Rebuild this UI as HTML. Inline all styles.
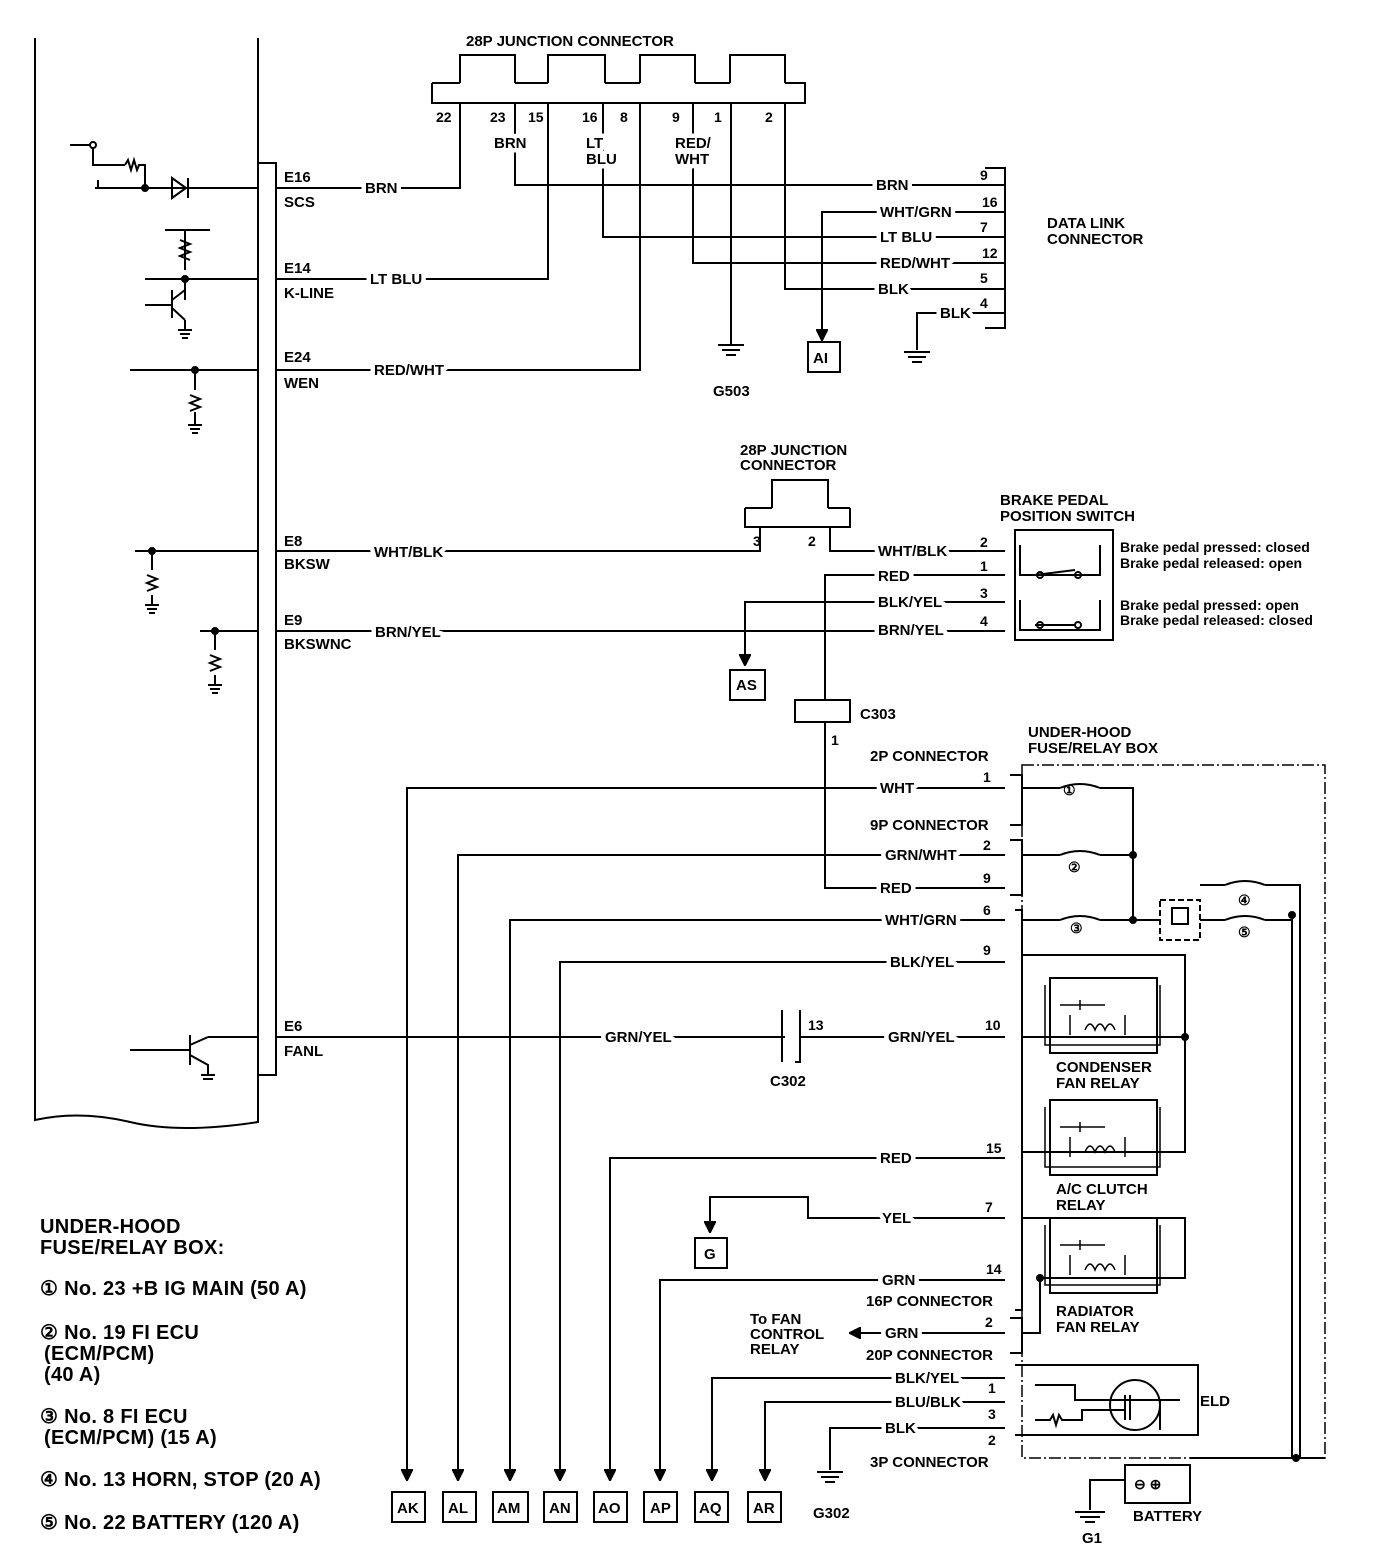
<!DOCTYPE html>
<html><head><meta charset="utf-8"><style>
body{margin:0;background:#fff}
svg{display:block}
text{font-family:"Liberation Sans",Arial,sans-serif;font-weight:bold;font-size:15px;fill:#000;stroke:none}
.s{font-size:14px}
.l{font-size:20px;letter-spacing:0.3px}
text.w{stroke:#fff;stroke-width:9px;paint-order:stroke;stroke-linejoin:round}
</style></head><body>
<svg width="1376" height="1566" viewBox="0 0 1376 1566" xmlns="http://www.w3.org/2000/svg" stroke="#000" fill="none">
<defs><marker id="a" viewBox="0 0 10 10" refX="9" refY="5" markerWidth="6" markerHeight="6" orient="auto"><path d="M0,0L10,5L0,10z" fill="#000"/></marker></defs>
<g stroke-width="2">
<path d="M35 38V1120 Q80 1110 130 1122 T258 1122V38"/>
<rect x="258" y="163" width="18" height="912"/>
<path d="M70 145H93V165H125M93 145V148M125 165l3-5l3 10l3-10l3 10l2-5H145V188H172M95 188H258M98 180v8M172 178l14 10l-14 10zM188 178v20"/>
<circle cx="93" cy="145" r="3" fill="#fff"/><circle cx="145" cy="188" r="3" fill="#000"/>
<path d="M165 230H210M185 230V270M180 240l10 4l-10 4l10 4l-10 4l10 4M145 279H258M185 279V300M145 305H172M172 290V318M172 300l13-10M172 308l13 12M185 320V330M178 330h14M180 334h10M182 338h6"/>
<circle cx="185" cy="279" r="3" fill="#000"/>
<path d="M130 370H258M195 370V390M190 395l10 4l-10 4l10 4l-10 4M195 412V425M188 425h14M190 429h10M192 433h6"/>
<circle cx="195" cy="370" r="3" fill="#000"/>
<path d="M135 551H258M152 551V570M147 575l10 4l-10 4l10 4l-10 4M152 595V605M145 605h14M147 609h10M149 613h6"/>
<circle cx="152" cy="551" r="3" fill="#000"/>
<path d="M200 631H258M215 631V650M210 655l10 4l-10 4l10 4l-10 4M215 675V685M208 685h14M210 689h10M212 693h6"/>
<circle cx="215" cy="631" r="3" fill="#000"/>
<path d="M130 1050H190M190 1035V1065M190 1045l18-8M190 1055l18 10V1075M201 1075h14M203 1079h10M208 1037H258"/>
<path d="M432 83V103H805V83H785M460 83V55H515V83M548 83V55H605V83M640 83V55H695V83M730 83V55H785V83M432 83H460M515 83H548M605 83H640M695 83H730"/>
<path d="M276 188H460V103M276 279H548V103M276 370H640V103"/>
<path d="M515 103V185H985M603 103V237H1005M693 103V263H1005M785 103V289H1005M731 103V345M515 185H1005"/>
<path d="M718 345h26M722 350h18M726 355h10"/>
<path d="M1005 212H822V340" marker-end="url(#a)"/>
<rect x="808" y="342" width="32" height="30"/>
<path d="M1005 313H917V350M904 352h26M908 357h18M912 362h10"/>
<path d="M985 168H1005V328H985M1005 185h-20"/>
<path d="M745 508V527H850V508M772 508V480H828V508M745 508H772M828 508H850"/>
<path d="M276 551H760V527M830 527V551H1005"/>
<path d="M1005 575H825V700M825 722V888H1005"/>
<rect x="795" y="700" width="55" height="22"/>
<path d="M1005 602H745V665" marker-end="url(#a)"/>
<rect x="730" y="670" width="35" height="30"/>
<path d="M276 631H1005"/>
<rect x="1015" y="530" width="98" height="110"/>
<path d="M1020 545v30h80v-30M1035 575l40-5M1020 600v30h80v-30M1035 625l40-0"/>
<circle cx="1040" cy="575" r="3"/><circle cx="1078" cy="575" r="3"/><circle cx="1040" cy="625" r="3"/><circle cx="1078" cy="625" r="3"/>
<path d="M1005 788H407V1480" marker-end="url(#a)"/>
<path d="M1005 855H458V1480" marker-end="url(#a)"/>
<path d="M1005 920H510V1480" marker-end="url(#a)"/>
<path d="M1005 962H560V1480" marker-end="url(#a)"/>
<path d="M1005 1158H610V1480" marker-end="url(#a)"/>
<path d="M1005 1280H660V1480" marker-end="url(#a)"/>
<path d="M1005 1378H712V1480" marker-end="url(#a)"/>
<path d="M1005 1402H765V1480" marker-end="url(#a)"/>
<path d="M1005 1428H830V1470M817 1472h26M821 1477h18M825 1482h10"/>
<path d="M276 1037H785M800 1037H1005"/>
<path d="M782 1010V1062M800 1010V1062H795"/>
<path d="M1005 1218H808V1197H710V1232" marker-end="url(#a)"/>
<rect x="695" y="1238" width="32" height="30"/>
<path d="M1005 1333H850" marker-end="url(#a)"/>
<rect x="392" y="1492" width="33" height="30"/><rect x="443" y="1492" width="33" height="30"/><rect x="493" y="1492" width="35" height="30"/><rect x="544" y="1492" width="33" height="30"/><rect x="594" y="1492" width="33" height="30"/><rect x="644" y="1492" width="33" height="30"/><rect x="695" y="1492" width="33" height="30"/><rect x="748" y="1492" width="33" height="30"/>
<path d="M1010 775h12v50h-12M1010 840h12v55h-12M1015 910h7v400h-7M1010 1318h12v35h-12M1015 1365h183v70h-183"/>
</g>
<path d="M1022 765H1325V1458H1022Z" stroke-width="1.5" stroke-dasharray="12 3 2 3"/>
<g stroke-width="2">
<path d="M1022 788H1060M1100 788H1133V920M1022 855H1060M1100 855H1133M1022 920H1060M1100 920H1160M1133 920H1160M1200 920H1225M1265 920H1292V1458M1200 885H1225M1265 885H1300V1458M1325 1458H1300M1292 1458H1190"/>
<circle cx="1133" cy="855" r="3" fill="#000"/><circle cx="1133" cy="920" r="3" fill="#000"/><circle cx="1292" cy="915" r="3" fill="#000"/><circle cx="1296" cy="1458" r="3" fill="#000"/>
<path d="M1060 788q20-8 40 0M1060 855q20-8 40 0M1060 920q20-8 40 0M1225 885q20-8 40 0M1225 920q20-8 40 0"/>
<rect x="1160" y="900" width="40" height="40" stroke-dasharray="6 3"/>
<rect x="1172" y="908" width="16" height="16"/>
<rect x="1050" y="978" width="107" height="75"/><rect x="1050" y="1100" width="107" height="75"/><rect x="1050" y="1218" width="107" height="75"/>
<g stroke-width="1.5">
<path d="M1045 985V1045H1160V985M1060 1005h45M1080 1000v10M1070 1015v20M1125 1015v20M1085 1030q5-12 10 0q5-12 10 0q5-12 10 0"/>
<path d="M1045 1107V1167H1160V1107M1060 1127h45M1080 1122v10M1070 1137v20M1125 1137v20M1085 1152q5-12 10 0q5-12 10 0q5-12 10 0"/>
<path d="M1045 1225V1285H1160V1225M1060 1245h45M1080 1240v10M1070 1255v20M1125 1255v20M1085 1270q5-12 10 0q5-12 10 0q5-12 10 0"/>
</g>
<path d="M1022 1037H1185V955H1022M1185 1037V1152H1022M1022 1218H1185V1278H1040M1040 1278V1333H1022"/>
<circle cx="1185" cy="1037" r="3" fill="#000"/><circle cx="1040" cy="1278" r="3" fill="#000"/>
<rect x="1125" y="1465" width="65" height="38"/>
<path d="M1125 1480H1090V1510M1075 1512h30M1080 1517h20M1085 1522h10"/>
<circle cx="1135" cy="1405" r="25"/>
<path d="M1035 1385H1075V1400H1180M1035 1420h15l3-5l3 10l3-10l3 5h20V1410H1125M1125 1395V1420M1130 1395V1420M1160 1400V1430"/>
</g>
<text x="466" y="46">28P JUNCTION CONNECTOR</text>
<text class="s" x="436" y="122">22</text><text class="s" x="490" y="122">23</text><text class="s" x="528" y="122">15</text><text class="s" x="582" y="122">16</text><text class="s" x="620" y="122">8</text><text class="s" x="672" y="122">9</text><text class="s" x="714" y="122">1</text><text class="s" x="765" y="122">2</text>
<text class="w" x="494" y="148">BRN</text><text class="w" x="586" y="148">LT</text><text class="w" x="586" y="164">BLU</text><text class="w" x="675" y="148">RED/</text><text class="w" x="675" y="164">WHT</text>
<text x="284" y="182">E16</text><text x="284" y="207">SCS</text><text class="w" x="365" y="193">BRN</text>
<text x="284" y="273">E14</text><text x="284" y="298">K-LINE</text><text class="w" x="370" y="284">LT BLU</text>
<text x="284" y="362">E24</text><text x="284" y="388">WEN</text><text class="w" x="374" y="375">RED/WHT</text>
<text class="w" x="876" y="190">BRN</text><text class="w" x="880" y="217">WHT/GRN</text><text class="w" x="880" y="242">LT BLU</text><text class="w" x="880" y="268">RED/WHT</text><text class="w" x="878" y="294">BLK</text><text class="w" x="940" y="318">BLK</text>
<text class="s" x="980" y="180">9</text><text class="s" x="982" y="207">16</text><text class="s" x="980" y="232">7</text><text class="s" x="982" y="258">12</text><text class="s" x="980" y="283">5</text><text class="s" x="980" y="308">4</text>
<text x="1047" y="228">DATA LINK</text><text x="1047" y="244">CONNECTOR</text>
<text x="813" y="363">AI</text><text x="713" y="396">G503</text>
<text x="740" y="455">28P JUNCTION</text><text x="740" y="470">CONNECTOR</text>
<text class="s" x="753" y="546">3</text><text class="s" x="808" y="546">2</text>
<text x="284" y="546">E8</text><text x="284" y="569">BKSW</text><text class="w" x="374" y="557">WHT/BLK</text>
<text x="284" y="625">E9</text><text x="284" y="649">BKSWNC</text><text class="w" x="375" y="637">BRN/YEL</text>
<text class="w" x="878" y="556">WHT/BLK</text><text class="w" x="878" y="581">RED</text><text class="w" x="878" y="607">BLK/YEL</text><text class="w" x="878" y="635">BRN/YEL</text>
<text class="s" x="980" y="547">2</text><text class="s" x="980" y="571">1</text><text class="s" x="980" y="598">3</text><text class="s" x="980" y="626">4</text>
<text x="1000" y="505">BRAKE PEDAL</text><text x="1000" y="521">POSITION SWITCH</text>
<text class="s" x="1120" y="552">Brake pedal pressed: closed</text><text class="s" x="1120" y="568">Brake pedal released: open</text>
<text class="s" x="1120" y="610">Brake pedal pressed: open</text><text class="s" x="1120" y="625">Brake pedal released: closed</text>
<text x="736" y="690">AS</text><text x="860" y="719">C303</text><text class="s" x="831" y="745">1</text>
<text x="1028" y="737">UNDER-HOOD</text><text x="1028" y="753">FUSE/RELAY BOX</text>
<text x="870" y="761">2P CONNECTOR</text><text class="w" x="880" y="793">WHT</text><text class="s" x="983" y="782">1</text>
<text x="870" y="830">9P CONNECTOR</text><text class="w" x="885" y="860">GRN/WHT</text><text class="s" x="983" y="850">2</text>
<text class="w" x="880" y="893">RED</text><text class="s" x="983" y="883">9</text>
<text class="w" x="885" y="925">WHT/GRN</text><text class="s" x="983" y="915">6</text>
<text class="w" x="890" y="967">BLK/YEL</text><text class="s" x="983" y="955">9</text>
<text x="284" y="1031">E6</text><text x="284" y="1056">FANL</text><text class="w" x="605" y="1042">GRN/YEL</text><text class="s" x="808" y="1030">13</text><text class="w" x="888" y="1042">GRN/YEL</text><text class="s" x="985" y="1030">10</text><text x="770" y="1086">C302</text>
<text class="w" x="880" y="1163">RED</text><text class="s" x="986" y="1153">15</text>
<text class="w" x="882" y="1223">YEL</text><text class="s" x="985" y="1212">7</text><text x="704" y="1259">G</text>
<text class="w" x="882" y="1285">GRN</text><text class="s" x="986" y="1274">14</text>
<text x="866" y="1306">16P CONNECTOR</text>
<text class="w" x="885" y="1338">GRN</text><text class="s" x="985" y="1327">2</text>
<text x="750" y="1324">To FAN</text><text x="750" y="1339">CONTROL</text><text x="750" y="1354">RELAY</text>
<text x="866" y="1360">20P CONNECTOR</text>
<text class="w" x="895" y="1383">BLK/YEL</text><text class="w" x="895" y="1407">BLU/BLK</text><text class="w" x="885" y="1433">BLK</text>
<text class="s" x="988" y="1393">1</text><text class="s" x="988" y="1419">3</text><text class="s" x="988" y="1445">2</text>
<text x="870" y="1467">3P CONNECTOR</text><text x="813" y="1518">G302</text>
<text x="1056" y="1072">CONDENSER</text><text x="1056" y="1088">FAN RELAY</text>
<text x="1056" y="1194">A/C CLUTCH</text><text x="1056" y="1210">RELAY</text>
<text x="1056" y="1316">RADIATOR</text><text x="1056" y="1332">FAN RELAY</text>
<text x="1200" y="1406">ELD</text>
<text x="1133" y="1521">BATTERY</text><text x="1082" y="1543">G1</text>
<text x="397" y="1513">AK</text><text x="448" y="1513">AL</text><text x="497" y="1513">AM</text><text x="549" y="1513">AN</text><text x="598" y="1513">AO</text><text x="650" y="1513">AP</text><text x="699" y="1513">AQ</text><text x="753" y="1513">AR</text>
<text class="s" x="1063" y="795">①</text><text class="s" x="1068" y="872">②</text><text class="s" x="1070" y="933">③</text><text class="s" x="1238" y="905">④</text><text class="s" x="1238" y="937">⑤</text>
<text class="s" x="1134" y="1489">⊖   ⊕</text>
<text class="l" x="40" y="1233">UNDER-HOOD</text><text class="l" x="40" y="1254">FUSE/RELAY BOX:</text>
<text class="l" x="40" y="1295">① No. 23 +B IG MAIN (50 A)</text>
<text class="l" x="40" y="1339">② No. 19 FI ECU</text><text class="l" x="44" y="1360">(ECM/PCM)</text><text class="l" x="44" y="1381">(40 A)</text>
<text class="l" x="40" y="1423">③ No. 8 FI ECU</text><text class="l" x="44" y="1444">(ECM/PCM) (15 A)</text>
<text class="l" x="40" y="1486">④ No. 13 HORN, STOP (20 A)</text>
<text class="l" x="40" y="1529">⑤ No. 22 BATTERY (120 A)</text>
</svg>
</body></html>
